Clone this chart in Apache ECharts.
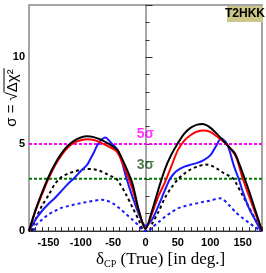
<!DOCTYPE html>
<html><head><meta charset="utf-8">
<script src="https://cdn.jsdelivr.net/npm/echarts@6/dist/echarts.min.js"></script>
<style>html,body{margin:0;padding:0;background:#fff}#c{width:266px;height:273px}</style>
</head><body><div id="c"></div>
<script>
// δCP (true) in degrees vs sensitivity σ
const blackSolid = [[-180,0],[-170,1.2],[-160,2.2],[-150,3.1],[-140,3.85],[-130,4.45],[-120,4.9],[-110,5.2],[-100,5.38],[-90,5.45],[-80,5.4],[-70,5.27],[-60,5.08],[-50,4.85],[-43,4.65],[-40,4.45],[-30,3.65],[-20,2.7],[-10,1.15],[0,0.12],[10,1.15],[20,2.4],[30,3.55],[40,4.4],[50,5.05],[60,5.6],[70,5.95],[80,6.12],[88,6.15],[100,5.95],[110,5.6],[120,5.2],[130,4.8],[138,4.47],[145,3.85],[150,3.35],[160,2.3],[170,1.15],[180,0]];
const redSolid = [[-180,0],[-170,1.15],[-160,2.1],[-150,3.0],[-140,3.75],[-130,4.35],[-120,4.8],[-110,5.08],[-100,5.22],[-90,5.28],[-80,5.23],[-70,5.1],[-60,4.92],[-50,4.72],[-44,4.56],[-40,4.3],[-30,3.4],[-20,2.4],[-10,1.1],[0,0.12],[10,1.0],[20,2.0],[30,2.8],[40,3.73],[50,4.65],[60,5.2],[70,5.52],[80,5.72],[90,5.78],[100,5.7],[110,5.45],[120,5.15],[130,4.8],[140,4.25],[150,3.05],[160,2.0],[170,1.0],[180,0]];
const blueSolid = [[-180,0],[-170,0.65],[-160,1.15],[-150,1.55],[-140,1.9],[-130,2.3],[-120,2.7],[-110,3.05],[-100,3.45],[-90,3.82],[-85,4.15],[-80,4.5],[-75,4.9],[-70,5.18],[-62,5.38],[-55,5.15],[-50,4.95],[-45,4.75],[-40,4.4],[-35,3.8],[-30,3.1],[-20,1.95],[-10,0.95],[0,0.3],[10,0.65],[20,1.45],[30,2.35],[38,3.0],[45,3.35],[50,3.5],[60,3.7],[70,3.82],[80,3.92],[90,4.08],[100,4.35],[110,4.95],[117,5.33],[122,5.2],[126,5.0],[130,4.6],[137,3.7],[144,3.0],[150,2.3],[160,1.3],[170,0.6],[178,0]];
const blackDashed = [[-176,0],[-170,0.65],[-160,1.45],[-150,2.05],[-140,2.7],[-130,3.1],[-120,3.3],[-110,3.42],[-100,3.52],[-90,3.57],[-80,3.55],[-70,3.45],[-60,3.28],[-50,3.1],[-45,3.0],[-40,2.75],[-30,2.1],[-20,1.35],[-10,0.6],[-2,0],[5,0],[10,0.4],[20,1.1],[30,1.9],[40,2.5],[50,2.97],[60,3.3],[70,3.55],[80,3.7],[92,3.82],[100,3.78],[110,3.6],[120,3.35],[130,3.15],[136,3.0],[140,2.75],[150,2.05],[160,1.35],[170,0.65],[180,0]];
const blueDashed = [[-173,0],[-170,0.3],[-160,0.65],[-150,0.95],[-140,1.15],[-130,1.33],[-120,1.43],[-110,1.52],[-100,1.6],[-90,1.67],[-80,1.74],[-68,1.8],[-60,1.75],[-50,1.58],[-40,1.3],[-30,0.98],[-20,0.65],[-10,0.3],[-3,0],[5,0],[10,0.2],[20,0.5],[30,0.82],[40,1.08],[50,1.3],[60,1.42],[70,1.52],[80,1.6],[90,1.68],[100,1.75],[115,1.88],[120,1.82],[130,1.45],[140,1.05],[150,0.75],[160,0.47],[170,0.2],[180,0]];
const sigmaLevels = [5, 3];
const sigmaLabels = ['5σ', '3σ'];
const sigmaLabelPos = [[0, 5.6], [0, 3.8]];
const xRange = [-180, 180];
const yRange = [0, 13];
const xTickLabels = [-150, -100, -50, 0, 50, 100, 150];
const yTickLabels = [0, 5, 10];
const expName = 'T2HKK';

const chart = echarts.init(document.getElementById('c'), null, {renderer: 'canvas'});
const tickFont = {fontFamily: '"Liberation Sans Narrow","Liberation Sans",Arial,sans-serif', fontWeight: 'bold', fontSize: 11, color: '#000'};

function hline(v, color) {
  return {type: 'line', data: [[xRange[0], v], [xRange[1], v]], symbol: 'none', silent: true,
    lineStyle: {color: color, width: 2, type: [3, 2]}, z: 2};
}
function curve(d, color, dashed) {
  return {type: 'line', data: d, symbol: 'none', smooth: 0.3, silent: true,
    lineStyle: {color: color, width: 2, type: dashed ? [3, 3] : 'solid'}, z: 3};
}

// measure y-title parts
const cv = document.createElement('canvas').getContext('2d');
const yFont = '15px "Liberation Sans", Arial, sans-serif';
cv.font = yFont;
const wA = cv.measureText('σ = ').width;
const wB = cv.measureText('√').width;
const wC = cv.measureText('Δχ²').width;
const total = wA + wB + wC;

chart.setOption({
  animation: false,
  grid: {left: 29, right: 4, top: 5, bottom: 42, show: true, borderColor: '#888', borderWidth: 1.5},
  xAxis: {type: 'value', min: xRange[0], max: xRange[1], interval: 10,
    axisLine: {show: true, lineStyle: {color: '#333', width: 1}},
    axisTick: {show: true, inside: true, length: 4, lineStyle: {color: '#333'}},
    splitLine: {show: false},
    axisLabel: Object.assign({margin: 6, formatter: v => xTickLabels.includes(v) ? String(v) : ''}, tickFont)
  },
  yAxis: {type: 'value', min: yRange[0], max: yRange[1], interval: 5,
    axisLine: {show: true, lineStyle: {color: '#888', width: 1.5}},
    axisTick: {show: true, inside: true, length: 7, lineStyle: {color: '#333'}},
    minorTick: {show: true, splitNumber: 5, length: 4, lineStyle: {color: '#333'}},
    splitLine: {show: false},
    axisLabel: Object.assign({margin: 4, formatter: v => yTickLabels.includes(v) ? String(v) : ''}, tickFont)
  },
  series: [
    hline(sigmaLevels[0], '#ff00ff'),
    hline(sigmaLevels[1], '#007a00'),
    curve(blackDashed, '#000', true),
    curve(blueDashed, '#1a1aff', true),
    curve(blueSolid, '#1a1aff', false),
    curve(redSolid, '#ff0000', false),
    curve(blackSolid, '#000', false),
    {type: 'scatter', symbolSize: 0, silent: true, z: 5,
      data: sigmaLabelPos.map((p, i) => ({value: p, label: {show: true, formatter: sigmaLabels[i], position: 'inside',
        color: i === 0 ? '#ff00ff' : '#1f5a1f', fontSize: 14, fontWeight: 'bold',
        fontFamily: '"Liberation Sans Narrow","Liberation Sans",Arial,sans-serif'}}))}
  ],
  graphic: [
    {type: 'group', left: 225, top: 6, children: [
      {type: 'rect', shape: {x: 0, y: 0, width: 36, height: 16}, style: {fill: '#ccc68a'}},
      {type: 'text', x: 18, y: 8, style: {text: expName, align: 'center', verticalAlign: 'middle',
        font: 'bold 12px "Liberation Sans Narrow","Liberation Sans",Arial,sans-serif', fill: '#000'}}
    ]},
    {type: 'group', x: 12, y: 98, rotation: Math.PI / 2, children: [
      {type: 'text', x: -total / 2, y: 0, style: {text: 'σ = ', font: yFont, fill: '#000', verticalAlign: 'middle'}},
      {type: 'text', x: -total / 2 + wA, y: 1, style: {text: '√', font: yFont, fill: '#000', verticalAlign: 'middle'}},
      {type: 'text', x: -total / 2 + wA + wB, y: 1, style: {text: 'Δχ²', font: yFont, fill: '#000', verticalAlign: 'middle'}},
      {type: 'line', shape: {x1: -total / 2 + wA + wB - 0.5, y1: -8, x2: total / 2 + 1, y2: -8}, style: {stroke: '#000', lineWidth: 1}}
    ]},
    {type: 'text', left: 96, top: 251, style: {
      rich: {d: {fontSize: 17, fontFamily: '"Liberation Serif","Times New Roman",serif'},
             s: {fontSize: 10, fontFamily: '"Liberation Serif","Times New Roman",serif', padding: [9, 0, 0, 0]},
             t: {fontSize: 17, fontFamily: '"Liberation Serif","Times New Roman",serif'}},
      text: '{d|δ}{s|CP}{t| (True) [in deg.]}', fill: '#000'}}
  ]
});
</script></body></html>
